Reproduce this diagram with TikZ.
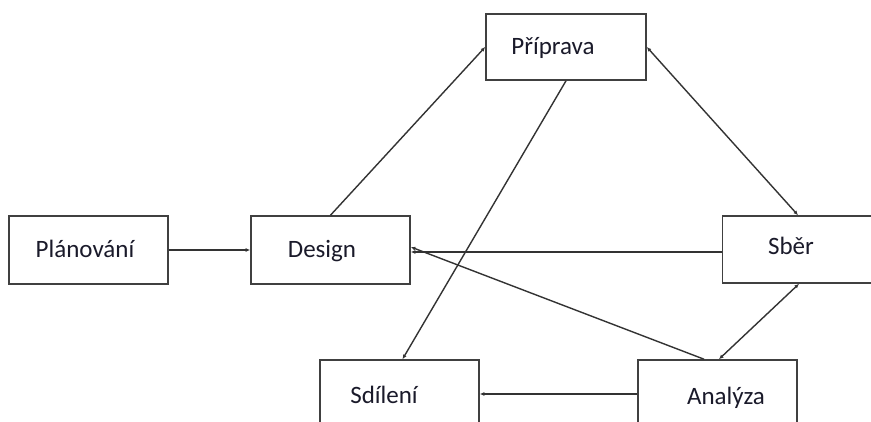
\documentclass[tikz,border=0pt]{standalone}
\usepackage{fontspec}
\setmainfont{Carlito}
\usetikzlibrary{arrows.meta,calc}
\definecolor{boxgray}{HTML}{404040}
\definecolor{linegray}{HTML}{333333}
\definecolor{txt}{HTML}{1A1A2A}
\tikzset{
  box/.style={draw=boxgray, line width=1.6pt, minimum width=159pt, minimum height=68pt, inner sep=0pt, fill=white},
  lbl/.style={anchor=base, inner sep=0pt, text=txt, font=\fontsize{25}{30}\selectfont},
  conn/.style={draw=linegray, line width=1.4pt},
  tip/.style={-{Latex[length=4.5pt,width=4pt]}},
  tips/.style={{Latex[length=4.5pt,width=4pt]}-{Latex[length=4.5pt,width=4pt]}}
}
\begin{document}
\begin{tikzpicture}[x=1pt,y=-1pt]
\useasboundingbox[fill=white] (0,0) rectangle (871,421);
\clip (0,0) rectangle (871,421);
% boxes
\node[box] (plan) at (88.5,250) {};
\node[box] (design) at (330.5,250) {};
\node[box, minimum width=160pt, minimum height=66pt] (prip) at (566,47) {};
\node[box, minimum height=67pt] (sber) at (802,249.5) {};
\node[box] (sdil) at (399.5,394) {};
\node[box] (anal) at (717.5,394) {};
% labels
\node[lbl] (tplan) at (85,257) {Plánování};
\node[lbl] (tdesign) at (322,257) {Design};
\node[lbl] (tprip) at (553,54) {Příprava};
\node[lbl] (tsber) at (791,254) {Sběr};
\node[lbl] (tsdil) at (384,403) {Sdílení};
\node[lbl] (tanal) at (726,404) {Analýza};
% connectors
\draw[conn, tip, line width=2.2pt] (plan.east) -- (design.west);
\draw[conn, tip] (design.north) -- (prip.west);
\draw[conn, tips] (prip.east) -- ([xshift=-4pt]sber.north);
\draw[conn, tip] (prip.south) -- ([xshift=3pt]sdil.north);
\draw[conn, tip] (sber.west |- 0,252) coordinate (sw) -- (design.east |- sw);
\draw[conn, tip] ([xshift=-13.5pt]anal.north) -- ([yshift=3pt]design.east);
\draw[conn, tips] ([xshift=-3pt]sber.south) -- ([xshift=1.5pt]anal.north);
\draw[conn, tip] (anal.west) -- (sdil.east);
\end{tikzpicture}
\end{document}
